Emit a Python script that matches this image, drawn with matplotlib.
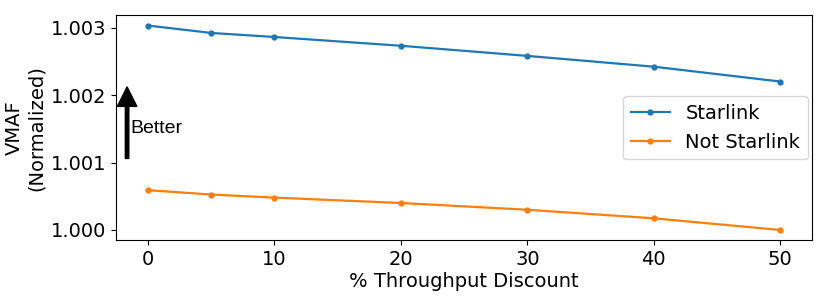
import matplotlib.pyplot as plt

discount = [0, 5, 10, 20, 30, 40, 50]
starlink = [1.00303, 1.00292, 1.00286, 1.00273, 1.00258, 1.00242, 1.00220]
not_starlink = [1.00059, 1.000525, 1.00048, 1.00040, 1.00030, 1.000173, 1.00000]

plt.rcParams['font.size'] = 14

fig, ax = plt.subplots(figsize=(8.31, 3.06), dpi=100)
ax.plot(discount, starlink, marker='o', markersize=3.5, lw=1.6, color='#1f77b4', label='Starlink')
ax.plot(discount, not_starlink, marker='o', markersize=3.5, lw=1.6, color='#ff7f0e', label='Not Starlink')

ax.set_yticks([1.000, 1.001, 1.002, 1.003])
ax.set_yticklabels(['1.000', '1.001', '1.002', '1.003'])
ax.set_xlabel('% Throughput Discount', labelpad=2)
ax.set_ylabel('VMAF\n(Normalized)')
ax.legend(loc='center right', bbox_to_anchor=(1.0, 0.5), borderaxespad=0.2)

# "better" arrow
ax.annotate('', xy=(-1.65, 1.00212), xytext=(-1.65, 1.00106),
            arrowprops=dict(facecolor='black', edgecolor='black', width=2.5,
                            headwidth=14, headlength=14))
ax.text(-1.4, 1.0015, 'Better', fontsize=14, va='center', ha='left',
        family='Liberation Sans')

fig.subplots_adjust(left=0.14, right=0.977, top=0.95, bottom=0.215)
fig.savefig('out.png')
